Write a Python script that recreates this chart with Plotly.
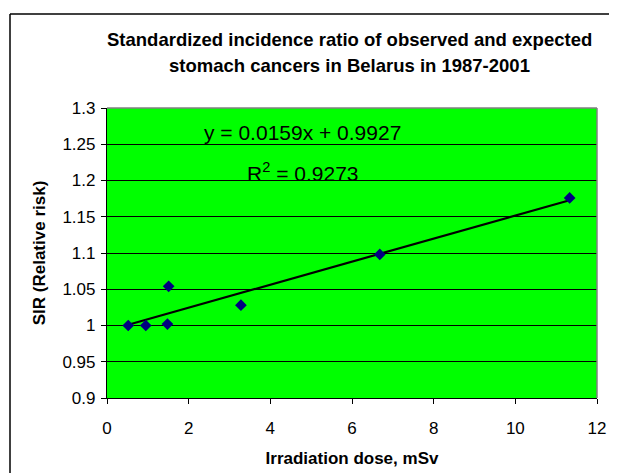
import plotly.graph_objects as go

# Data
dose_msv = [0.52, 0.95, 1.48, 1.51, 3.28, 6.68, 11.33]
sir = [1.000, 1.000, 1.002, 1.054, 1.028, 1.098, 1.176]

trend_slope = 0.0159
trend_intercept = 0.9927
r_squared = 0.9273

x_ticks = [0, 2, 4, 6, 8, 10, 12]
y_ticks = [0.9, 0.95, 1.0, 1.05, 1.1, 1.15, 1.2, 1.25, 1.3]
y_tick_text = ["0.9", "0.95", "1", "1.05", "1.1", "1.15", "1.2", "1.25", "1.3"]

title_lines = ["Standardized incidence ratio of observed and expected",
               "stomach cancers in Belarus in 1987-2001"]
x_title = "Irradiation dose, mSv"
y_title = "SIR (Relative risk)"

FONT = "Liberation Sans, Arial, sans-serif"

trend_x = [min(dose_msv), max(dose_msv)]
trend_y = [trend_slope * v + trend_intercept for v in trend_x]

fig = go.Figure()
fig.add_trace(go.Scatter(
    x=trend_x, y=trend_y, mode="lines",
    line=dict(color="black", width=2.2), showlegend=False, hoverinfo="skip"))
fig.add_trace(go.Scatter(
    x=dose_msv, y=sir, mode="markers",
    marker=dict(symbol="diamond", size=9, color="#000080"),
    showlegend=False))

# page body adds an 8px offset; work in reference-pixel coordinates
OFF = 8
W, H = 609, 465
L = 107 - OFF
T = 108 - OFF
R = W - (597 - OFF)
B = H - (398 - OFF)
pw = W - L - R
ph = H - T - B

def px_x(p):
    return (p - OFF - L) / pw

def px_y(p):
    return (H - B - (p - OFF)) / ph

fig.update_layout(
    width=W, height=H,
    margin=dict(l=L, r=R, t=T, b=B, pad=0, autoexpand=False),
    paper_bgcolor="white",
    plot_bgcolor="#00FF00",
    font=dict(family=FONT, color="black", size=17),
    xaxis=dict(range=[0, 12], tickvals=x_ticks, showgrid=False, zeroline=False,
               automargin=False,
               showline=True, linecolor="black", linewidth=1.2,
               ticks="outside", ticklen=5, tickcolor="black", tickwidth=1,
               ticklabelstandoff=9,
               tickfont=dict(size=17, family=FONT),
               title=dict(text="<b>" + x_title + "</b>", font=dict(size=17, family=FONT), standoff=15)),
    yaxis=dict(range=[0.9, 1.3], tickvals=y_ticks, ticktext=y_tick_text,
               automargin=False,
               showgrid=True, gridcolor="black", gridwidth=1, zeroline=False,
               showline=True, linecolor="black", linewidth=1.2,
               ticks="outside", ticklen=5, tickcolor="black", tickwidth=1,
               ticklabelstandoff=2,
               tickfont=dict(size=17, family=FONT),
               title=dict(text="<b>" + y_title + "</b>", font=dict(size=17, family=FONT), standoff=12)),
    shapes=[
        dict(type="line", xref="paper", yref="paper", x0=0, x1=1, y0=1, y1=1,
             line=dict(color="#808080", width=1.5), layer="above"),
        dict(type="line", xref="paper", yref="paper", x0=1, x1=1, y0=0, y1=1,
             line=dict(color="#808080", width=1.5), layer="above"),
        dict(type="line", xref="paper", yref="paper",
             x0=px_x(10), x1=px_x(700), y0=px_y(14), y1=px_y(14),
             line=dict(color="black", width=1.5), layer="above"),
        dict(type="line", xref="paper", yref="paper",
             x0=px_x(10), x1=px_x(10), y0=px_y(560), y1=px_y(14),
             line=dict(color="black", width=1.5), layer="above"),
    ],
    annotations=[
        dict(text="<b>" + title_lines[0] + "</b>", xref="paper", yref="paper",
             x=px_x(349.5), y=px_y(39), showarrow=False, xanchor="center", yanchor="middle",
             font=dict(size=18.5, family=FONT)),
        dict(text="<b>" + title_lines[1] + "</b>", xref="paper", yref="paper",
             x=px_x(349.5), y=px_y(65), showarrow=False, xanchor="center", yanchor="middle",
             font=dict(size=18.5, family=FONT)),
        dict(text="y = %.4fx + %.4f" % (trend_slope, trend_intercept), xref="paper", yref="y",
             x=px_x(302), y=1.2656, showarrow=False, xanchor="center", yanchor="middle",
             font=dict(size=21, family=FONT)),
        dict(text="R<sup>2</sup> = %.4f" % r_squared, xref="paper", yref="y",
             x=px_x(303), y=1.2118, showarrow=False, xanchor="center", yanchor="middle",
             font=dict(size=21, family=FONT)),
    ],
)

fig.write_html("out.html")
